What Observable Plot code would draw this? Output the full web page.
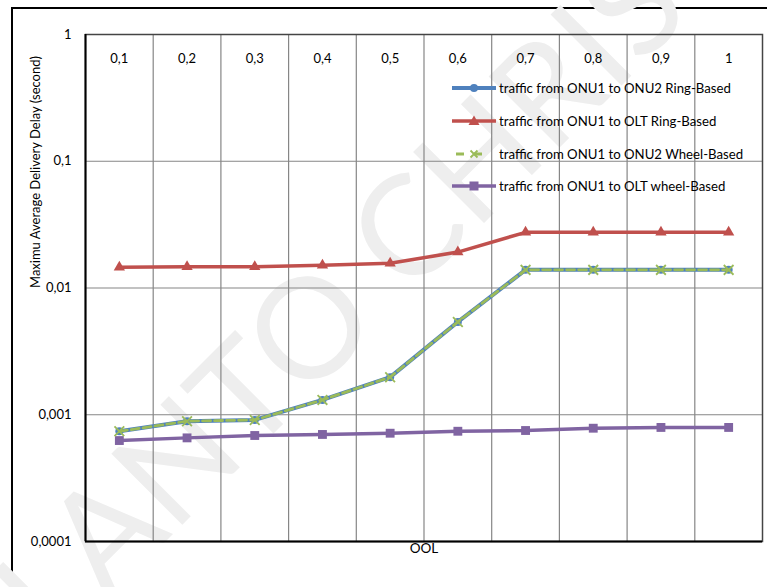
<!DOCTYPE html>
<html><head><meta charset="utf-8">
<script src="https://cdn.jsdelivr.net/npm/d3@7"></script>
<script src="https://cdn.jsdelivr.net/npm/@observablehq/plot@0.6"></script>
<style>
html,body{margin:0;padding:0;background:#fff;}
#wrap{position:relative;width:767px;height:587px;overflow:hidden;font-family:Lato,sans-serif;}
#outer{position:absolute;left:11px;top:7px;width:800px;height:700px;border-left:2px solid #000;border-top:2px solid #000;}
#chart{position:absolute;left:0;top:0;}
#legend{position:absolute;left:452px;top:72px;font:13.2px Lato,sans-serif;color:#000;}
.row{height:32.7px;display:flex;align-items:center;white-space:nowrap;}
.row svg{margin-right:3px;}
</style></head>
<body>
<div id="wrap"><div id="outer"></div><div id="chart"></div><div id="legend"></div></div>
<script>
const ool = [0.1, 0.2, 0.3, 0.4, 0.5, 0.6, 0.7, 0.8, 0.9, 1];
const onu2Ring  = [0.00074, 0.00089, 0.00091, 0.00131, 0.00198, 0.0054, 0.0139, 0.0139, 0.0139, 0.0139];
const oltRing   = [0.0146, 0.0147, 0.0147, 0.0151, 0.0157, 0.0192, 0.0275, 0.0275, 0.0275, 0.0275];
const onu2Wheel = [0.00074, 0.00089, 0.00091, 0.00131, 0.00198, 0.0054, 0.0139, 0.0139, 0.0139, 0.0139];
const oltWheel  = [0.000626, 0.000657, 0.000686, 0.000699, 0.000715, 0.000741, 0.000751, 0.000783, 0.000794, 0.000794];
const yTicks = [1, 0.1, 0.01, 0.001, 0.0001];
const xBounds = [0.15, 0.25, 0.35, 0.45, 0.55, 0.65, 0.75, 0.85, 0.95];
const seriesNames = [
  "traffic from ONU1 to ONU2 Ring-Based",
  "traffic from ONU1 to OLT Ring-Based",
  "traffic from ONU1 to ONU2 Wheel-Based",
  "traffic from ONU1 to OLT wheel-Based"
];
const colors = ["#4F81BD", "#C0504D", "#9BBB59", "#8064A2"];

const fmt = d => String(d).replace(".", ",");
const table = arr => ool.map((x, i) => ({x, y: arr[i]}));
const dRing2 = table(onu2Ring), dRingO = table(oltRing), dWheel2 = table(onu2Wheel), dWheelO = table(oltWheel);

const chart = Plot.plot({
  width: 767, height: 587,
  marginLeft: 85, marginRight: 5, marginTop: 34, marginBottom: 46,
  style: {background: "transparent", fontFamily: "Lato, sans-serif", fontSize: "13px", color: "#000"},
  x: {type: "linear", domain: [0.05, 1.05], axis: null},
  y: {type: "log", domain: [0.0001, 1], axis: null},
  marks: [
    Plot.text(["LANTO CHRIS"], {frameAnchor: "bottom-left", dx: -30, dy: 110, rotate: -45, fontSize: 140, fill: "#eeeeee", textAnchor: "start", lineAnchor: "bottom", fontFamily: "Lato, sans-serif"}),
    Plot.gridX(xBounds, {stroke: "#868686", strokeOpacity: 1, strokeWidth: 1.2}),
    Plot.gridY(yTicks, {stroke: "#868686", strokeOpacity: 1, strokeWidth: 1.2}),
    Plot.frame({stroke: "#444", strokeWidth: 1.5}),
    Plot.ruleY([0.0001], {stroke: "#000", strokeWidth: 2}),
    Plot.ruleX([0.05], {stroke: "#000", strokeWidth: 2}),
    Plot.axisY(yTicks, {tickSize: 0, tickPadding: 14, tickFormat: fmt, label: null, fontSize: 13}),
    Plot.text(ool, {x: d => d, frameAnchor: "top", dy: 19, text: fmt, fontSize: 13}),
    Plot.text(["OOL"], {frameAnchor: "bottom", dy: 11, fontSize: 13.5}),
    Plot.text(["Maximu Average Delivery Delay (second)"], {frameAnchor: "left", dx: -50, rotate: -90, fontSize: 13}),
    Plot.line(dRingO, {x: "x", y: "y", stroke: colors[1], strokeWidth: 3.5}),
    Plot.dot(dRingO, {x: "x", y: "y", symbol: "triangle", r: 4.2, fill: colors[1]}),
    Plot.line(dWheelO, {x: "x", y: "y", stroke: colors[3], strokeWidth: 3.5}),
    Plot.dot(dWheelO, {x: "x", y: "y", symbol: "square", r: 5, fill: colors[3]}),
    Plot.line(dRing2, {x: "x", y: "y", stroke: colors[0], strokeWidth: 4}),
    Plot.dot(dRing2, {x: "x", y: "y", symbol: "circle", r: 4, fill: colors[0]}),
    Plot.line(dWheel2, {x: "x", y: "y", stroke: colors[2], strokeWidth: 2.8, strokeDasharray: "8,4"}),
    Plot.dot(dWheel2, {x: "x", y: "y", symbol: "times", r: 4.5, stroke: colors[2], strokeWidth: 1.8})
  ]
});
document.getElementById("chart").appendChild(chart);

const markerSvg = i => {
  const c = colors[i];
  if (i === 0) return `<line x1="0" y1="8" x2="44" y2="8" stroke="${c}" stroke-width="4"/><circle cx="22" cy="8" r="4" fill="${c}"/>`;
  if (i === 1) return `<line x1="0" y1="8" x2="44" y2="8" stroke="${c}" stroke-width="3.5"/><path d="M22,2.5 L27.5,12 L16.5,12 Z" fill="${c}"/>`;
  if (i === 2) return `<line x1="4" y1="8" x2="40" y2="8" stroke="${c}" stroke-width="2.8" stroke-dasharray="8,10"/><path d="M18.5,4.5 L25.5,11.5 M25.5,4.5 L18.5,11.5" stroke="${c}" stroke-width="1.8"/>`;
  return `<line x1="0" y1="8" x2="44" y2="8" stroke="${c}" stroke-width="3.5"/><rect x="17.5" y="3.5" width="9" height="9" fill="${c}"/>`;
};
document.getElementById("legend").innerHTML = seriesNames.map((n, i) =>
  `<div class="row"><svg width="44" height="16">${markerSvg(i)}</svg><span>${n}</span></div>`).join("");
</script>
</body></html>
